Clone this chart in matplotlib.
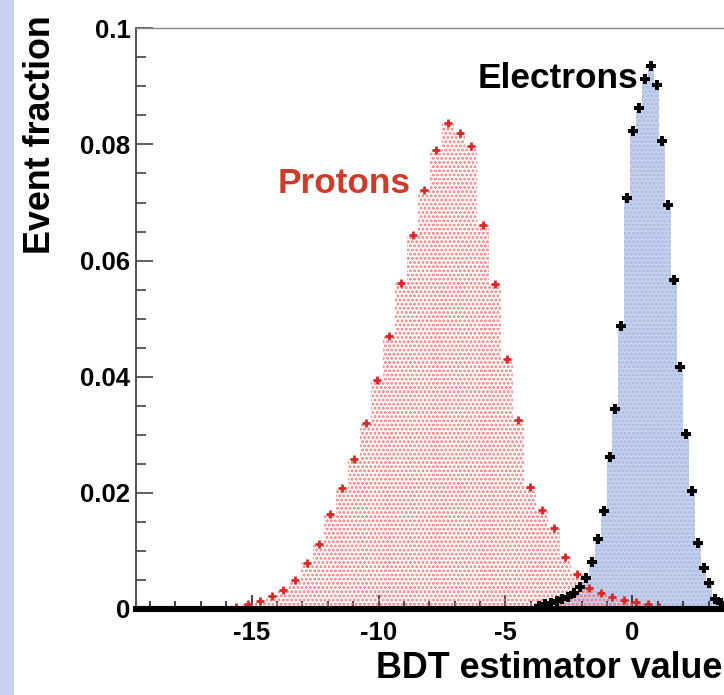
import matplotlib
matplotlib.use("Agg")
import matplotlib.pyplot as plt
from matplotlib.patches import Rectangle
from matplotlib.ticker import MultipleLocator
import numpy as np

# histogram binning (BDT estimator value)
bdt_range = (-20, 5)
n_bins_protons = 54
n_bins_electrons = 108

# event fraction per bin, starting at the given bin index
proton_first_bin = 9
proton_frac = [0.0004, 0.0008, 0.0013, 0.0022, 0.0033, 0.0050, 0.0079, 0.0112,
               0.0163, 0.0208, 0.0258, 0.0320, 0.0394, 0.0470, 0.0562, 0.0644,
               0.0721, 0.0790, 0.0837, 0.0819, 0.0797, 0.0661, 0.0559, 0.0431,
               0.0325, 0.0210, 0.0170, 0.0139, 0.0090, 0.0061, 0.0036, 0.0027,
               0.0021, 0.0015, 0.0012, 0.0008, 0.0004]

electron_first_bin = 70
electron_frac = [0.0005, 0.0008, 0.0011, 0.0014, 0.0018, 0.0021, 0.0028, 0.0038,
                 0.0053, 0.0081, 0.0120, 0.0169, 0.0262, 0.0345, 0.0487, 0.0707,
                 0.0824, 0.0862, 0.0913, 0.0935, 0.0903, 0.0806, 0.0695, 0.0567,
                 0.0417, 0.0301, 0.0204, 0.0113, 0.0070, 0.0044, 0.0018, 0.0011,
                 0.0005]

plt.rcParams['font.family'] = ['Liberation Sans', 'DejaVu Sans']
plt.rcParams['font.weight'] = 'bold'
plt.rcParams['axes.unicode_minus'] = False
plt.rcParams['hatch.linewidth'] = 1.4

fig = plt.figure(figsize=(7.24, 6.95), dpi=100, facecolor='w')
# slide background strip on the left
fig.patches.append(Rectangle((0, 0), 14 / 724, 1, transform=fig.transFigure,
                             facecolor='#c9cff0', edgecolor='none', zorder=0))

ax = fig.add_axes([136 / 724, 86 / 695, 598 / 724, 580.7 / 695])

p_edges = np.linspace(bdt_range[0], bdt_range[1], n_bins_protons + 1)
e_edges = np.linspace(bdt_range[0], bdt_range[1], n_bins_electrons + 1)
p_e = p_edges[proton_first_bin:proton_first_bin + len(proton_frac) + 1]
e_e = e_edges[electron_first_bin:electron_first_bin + len(electron_frac) + 1]

ax.stairs(electron_frac, e_e, fill=True, facecolor='#c6d1ee',
          edgecolor='#a9b9e2', hatch='....', linewidth=0, zorder=1)
ax.stairs(proton_frac, p_e, fill=True, facecolor='none',
          edgecolor='#f37a7a', hatch='....', linewidth=0, zorder=2)

p_c = 0.5 * (p_e[:-1] + p_e[1:])
e_c = 0.5 * (e_e[:-1] + e_e[1:])
ax.plot(p_c, proton_frac, ls='none', marker='+', ms=6, mew=2.0,
        color='#d42a2a', zorder=4)
ax.plot(e_c, electron_frac, ls='none', marker='P', ms=6.5, mew=0,
        color='k', zorder=5)

ax.axhline(0, color='k', lw=4.4, zorder=6, clip_on=False)

ax.set_xlim(-19.55, 4.0)
ax.set_ylim(0, 0.1)

ax.xaxis.set_major_locator(MultipleLocator(5))
ax.xaxis.set_minor_locator(MultipleLocator(1))
ax.yaxis.set_major_locator(MultipleLocator(0.02))
ax.yaxis.set_minor_locator(MultipleLocator(0.005))
ax.yaxis.set_major_formatter(plt.FuncFormatter(lambda v, p: f"{v:g}"))

ax.tick_params(axis='x', which='major', direction='in', length=10, width=1.3,
               color='#333333', pad=9, labelsize=18.5)
ax.tick_params(axis='x', which='minor', direction='in', length=5.5, width=1.3,
               color='#333333')
ax.tick_params(axis='y', which='major', direction='in', length=12.5, width=1.1,
               color='#333333', pad=4, labelsize=18.5)
ax.tick_params(axis='y', which='minor', direction='in', length=7, width=1.1,
               color='#333333')
for lab in ax.get_xticklabels() + ax.get_yticklabels():
    lab.set_fontweight('bold')

ax.spines['left'].set_color('#444444')
ax.spines['left'].set_linewidth(1.3)
ax.spines['top'].set_color('#888888')
ax.spines['top'].set_linewidth(1.0)
ax.spines['right'].set_visible(False)
ax.spines['bottom'].set_visible(False)
for t in ax.xaxis.get_ticklines(minor=True) + ax.xaxis.get_ticklines():
    t.set_zorder(7)

ax.text(-6.1, 0.0897, 'Electrons', fontsize=25.4, fontweight='bold',
        color='k', ha='left', va='baseline', zorder=8)
ax.text(-13.98, 0.0716, 'Protons', fontsize=25.4, fontweight='bold',
        color='#d03a2a', ha='left', va='baseline', zorder=8)

fig.text(722 / 724, 17 / 695, 'BDT estimator value', fontsize=25.8,
         fontweight='bold', ha='right', va='baseline')
fig.text(41 / 724, (695 - 135) / 695, 'Event fraction', fontsize=25.8,
         fontweight='bold', rotation=90, ha='center', va='center')

fig.savefig('out.png', dpi=100)
